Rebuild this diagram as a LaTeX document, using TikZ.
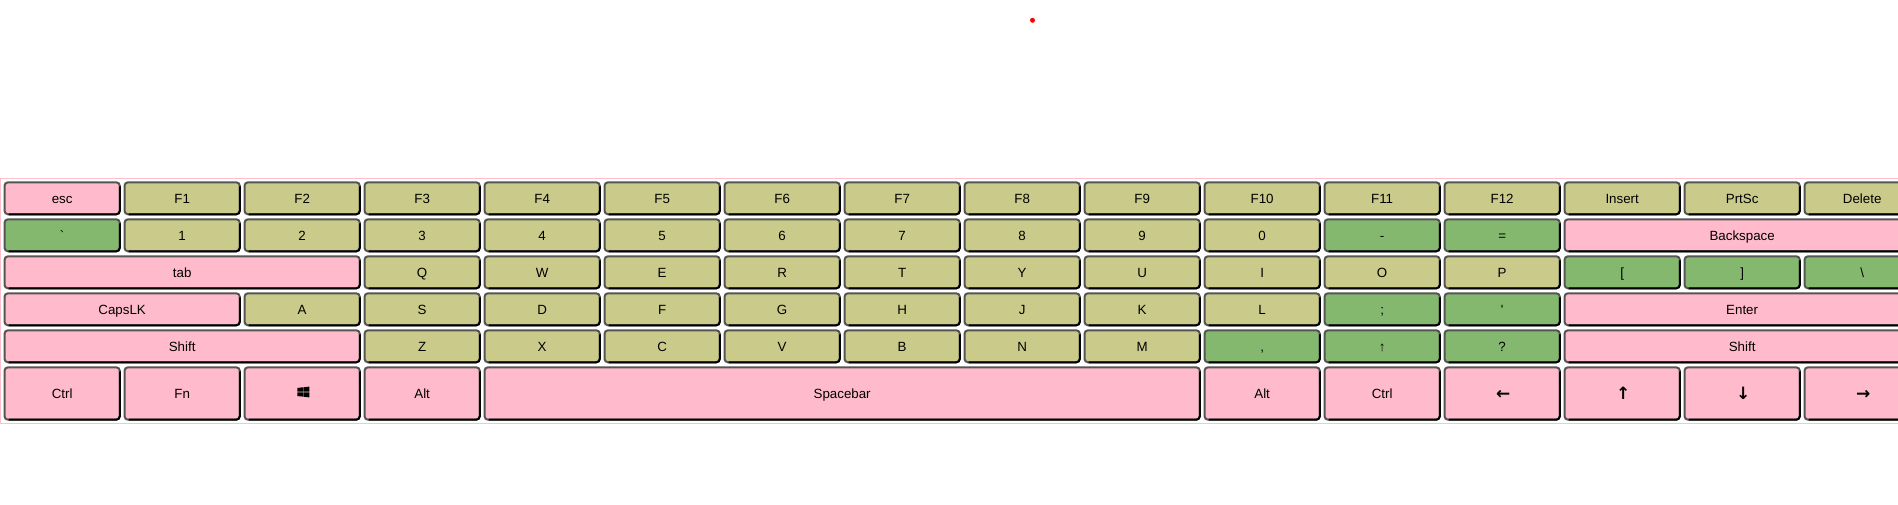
\documentclass[tikz,border=0pt]{standalone}
\usepackage{fontspec}
\setmainfont{Liberation Sans}[Ligatures=TeXOff]
\newfontfamily\arrowfont{DejaVu Sans Bold}
\definecolor{keypink}{HTML}{FFBBCC}
\definecolor{keyolive}{HTML}{CACB8B}
\definecolor{keygreen}{HTML}{85B86F}
\definecolor{keyedge}{HTML}{555555}
\definecolor{panelline}{HTML}{FFC0CB}
\tikzset{
  x=1pt,y=-1pt,
  keybox/.style={rounded corners=3.5pt,draw=keyedge,line width=2pt,inner sep=0pt,outer sep=0pt,
    anchor=north west,minimum height=32pt,text height=10pt,text depth=0pt,
    font=\fontsize{13.33}{15}\selectfont},
  keyshade/.style={black,line width=2pt,rounded corners=3.5pt},
  pinkkey/.style={keybox,fill=keypink},
  olivekey/.style={keybox,fill=keyolive},
  greenkey/.style={keybox,fill=keygreen},
  tallkey/.style={minimum height=52.4pt},
  arrowglyph/.style={font=\arrowfont\fontsize{17}{17}\selectfont,text height=11.5pt},
}
% \keyat{style}{name}{col}{row y}{span}{text}
\newcommand{\keyat}[6]{%
  \node[#1,minimum width={120*#5-4.7pt}] (#2) at ({4.5+120*#3},#4) {#6};
  \draw[keyshade] ([yshift=-4pt]#2.north east) -- (#2.south east) -- ([xshift=4pt]#2.south west);}
\newcommand{\rowkeys}[3]{% style, y, list col/name/text
  \foreach \c/\n/\t in {#3} {\keyat{#1}{\n}{\c}{#2}{1}{\t}}}
\begin{document}
\begin{tikzpicture}
\useasboundingbox (0,0) rectangle (1898,505);
\fill[white] (0,0) rectangle (1898,505);
\node[circle,fill=red,inner sep=0pt,minimum size=5pt] (dot) at (1032.5,20.3) {};
\draw[panelline,line width=1pt] (1898,178.5) -- (0.5,178.5) -- (0.5,423.5) -- (1898,423.5);
\def\ya{182.3}\def\yb{219.3}\def\yc{256.3}\def\yd{293.3}\def\ye{330.3}\def\yf{367.3}
% row 1
\keyat{pinkkey}{esc}{0}{\ya}{1}{esc}
\rowkeys{olivekey}{\ya}{1/f1/F1,2/f2/F2,3/f3/F3,4/f4/F4,5/f5/F5,6/f6/F6,7/f7/F7,8/f8/F8,9/f9/F9,10/f10/F10,11/f11/F11,12/f12/F12,13/ins/Insert,14/prt/PrtSc,15/del/Delete}
% row 2
\keyat{greenkey}{tick}{0}{\yb}{1}{`}
\rowkeys{olivekey}{\yb}{1/n1/1,2/n2/2,3/n3/3,4/n4/4,5/n5/5,6/n6/6,7/n7/7,8/n8/8,9/n9/9,10/n0/0}
\keyat{greenkey}{minus}{11}{\yb}{1}{-}
\keyat{greenkey}{equal}{12}{\yb}{1}{=}
\keyat{pinkkey}{bksp}{13}{\yb}{3}{Backspace}
% row 3
\keyat{pinkkey}{tab}{0}{\yc}{3}{tab}
\rowkeys{olivekey}{\yc}{3/q/Q,4/w/W,5/e/E,6/r/R,7/t/T,8/y/Y,9/u/U,10/i/I,11/o/O,12/p/P}
\keyat{greenkey}{lbr}{13}{\yc}{1}{[}
\keyat{greenkey}{rbr}{14}{\yc}{1}{]}
\keyat{greenkey}{bsl}{15}{\yc}{1}{\textbackslash}
% row 4
\keyat{pinkkey}{caps}{0}{\yd}{2}{CapsLK}
\rowkeys{olivekey}{\yd}{2/a/A,3/s/S,4/d/D,5/f/F,6/g/G,7/h/H,8/j/J,9/k/K,10/l/L}
\keyat{greenkey}{semi}{11}{\yd}{1}{;}
\keyat{greenkey}{quote}{12}{\yd}{1}{'}
\keyat{pinkkey}{enter}{13}{\yd}{3}{Enter}
% row 5
\keyat{pinkkey}{lsh}{0}{\ye}{3}{Shift}
\rowkeys{olivekey}{\ye}{3/z/Z,4/x/X,5/c/C,6/v/V,7/b/B,8/n/N,9/m/M}
\keyat{greenkey}{comma}{10}{\ye}{1}{,}
\keyat{greenkey}{uptxt}{11}{\ye}{1}{↑}
\keyat{greenkey}{qmark}{12}{\ye}{1}{?}
\keyat{pinkkey}{rsh}{13}{\ye}{3}{Shift}
% row 6
\keyat{pinkkey,tallkey}{lctrl}{0}{\yf}{1}{Ctrl}
\keyat{pinkkey,tallkey}{fn}{1}{\yf}{1}{Fn}
\keyat{pinkkey,tallkey}{win}{2}{\yf}{1}{}
\keyat{pinkkey,tallkey}{lalt}{3}{\yf}{1}{Alt}
\keyat{pinkkey,tallkey}{space}{4}{\yf}{6}{Spacebar}
\keyat{pinkkey,tallkey}{ralt}{10}{\yf}{1}{Alt}
\keyat{pinkkey,tallkey}{rctrl}{11}{\yf}{1}{Ctrl}
\keyat{pinkkey,tallkey,arrowglyph}{aleft}{12}{\yf}{1}{\hspace{2pt}←}
\keyat{pinkkey,tallkey,arrowglyph}{aup}{13}{\yf}{1}{\hspace{2pt}↑}
\keyat{pinkkey,tallkey,arrowglyph}{adown}{14}{\yf}{1}{\hspace{2pt}↓}
\keyat{pinkkey,tallkey,arrowglyph}{aright}{15}{\yf}{1}{\hspace{2pt}→}
% windows logo
\coordinate (wc) at ([xshift=-0.5pt]win.center);
\fill[black] ([shift={(-4.2,-5.6)}]wc) -- ([shift={(1.2,-6.2)}]wc) -- ([shift={(1.2,-1.8)}]wc) -- ([shift={(-4.2,-1.8)}]wc) -- cycle;
\fill[black] ([shift={(1.8,-6.2)}]wc) -- ([shift={(7.8,-6.9)}]wc) -- ([shift={(7.8,-1.8)}]wc) -- ([shift={(1.8,-1.8)}]wc) -- cycle;
\fill[black] ([shift={(-4.2,-1.2)}]wc) -- ([shift={(1.2,-1.2)}]wc) -- ([shift={(1.2,3.1)}]wc) -- ([shift={(-4.2,2.6)}]wc) -- cycle;
\fill[black] ([shift={(1.8,-1.2)}]wc) -- ([shift={(7.8,-1.2)}]wc) -- ([shift={(7.8,3.9)}]wc) -- ([shift={(1.8,3.2)}]wc) -- cycle;
\end{tikzpicture}
\end{document}
